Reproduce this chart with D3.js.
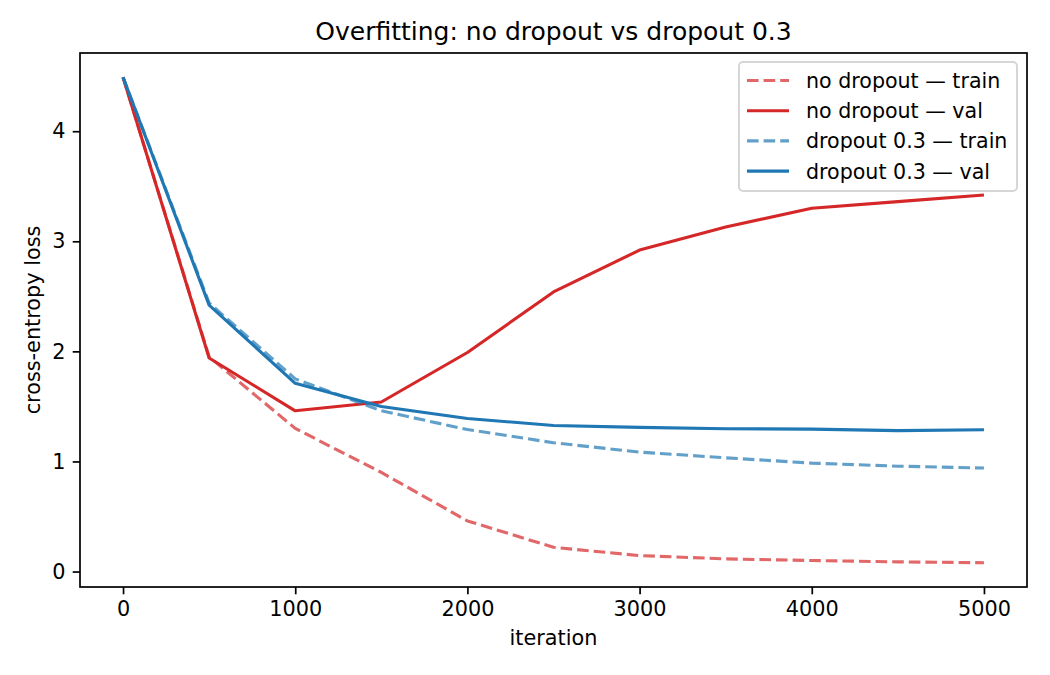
<!DOCTYPE html>
<html>
<head>
<meta charset="utf-8">
<script src="https://cdn.jsdelivr.net/npm/d3@7"></script>
<style>
  body { margin: 0; background: #fff; }
  svg { font-family: "DejaVu Sans", sans-serif; }
</style>
</head>
<body>
<div id="chart"></div>
<script>
// datos
var iteraciones = [0, 500, 1000, 1500, 2000, 2500, 3000, 3500, 4000, 4500, 5000];
var noDropoutTrain = [4.49, 1.95, 1.30, 0.90, 0.46, 0.22, 0.145, 0.115, 0.10, 0.088, 0.08];
var noDropoutVal = [4.49, 1.94, 1.46, 1.54, 1.99, 2.54, 2.92, 3.13, 3.30, 3.36, 3.42];
var dropoutTrain = [4.49, 2.44, 1.75, 1.46, 1.29, 1.17, 1.085, 1.033, 0.985, 0.957, 0.94];
var dropoutVal = [4.49, 2.42, 1.71, 1.50, 1.39, 1.327, 1.31, 1.297, 1.294, 1.28, 1.288];
var xTicks = [0, 1000, 2000, 3000, 4000, 5000];
var yTicks = [0, 1, 2, 3, 4];

var series = [
    { nombre: "no dropout \u2014 train", valores: noDropoutTrain, color: "#d62728", dash: true },
    { nombre: "no dropout \u2014 val", valores: noDropoutVal, color: "#d62728", dash: false },
    { nombre: "dropout 0.3 \u2014 train", valores: dropoutTrain, color: "#1f77b4", dash: true },
    { nombre: "dropout 0.3 \u2014 val", valores: dropoutVal, color: "#1f77b4", dash: false }
];

var W = 1050, H = 675;
var margin = { top: 53, right: 23, bottom: 88, left: 80 };
var width = W - margin.left - margin.right,
    height = H - margin.top - margin.bottom;

var svg = d3.select("#chart").append("svg")
    .attr("width", W)
    .attr("height", H);

var g = svg.append("g")
    .attr("transform", "translate(" + margin.left + "," + margin.top + ")");

// escalas con 5% de margen como matplotlib
var x = d3.scaleLinear().domain([-250, 5250]).range([0, width]);
var yMin = 0.08, yMax = 4.49, pad = (yMax - yMin) * 0.05;
var y = d3.scaleLinear().domain([yMin - pad, yMax + pad]).range([height, 0]);

// ejes
var xAxis = d3.axisBottom(x).tickValues(xTicks).tickFormat(d3.format("d")).tickSize(7.3).tickPadding(6.5);
var yAxis = d3.axisLeft(y).tickValues(yTicks).tickFormat(d3.format("d")).tickSize(7.3).tickPadding(7.3);

var gx = g.append("g")
    .attr("transform", "translate(0," + height + ")")
    .call(xAxis);
var gy = g.append("g").call(yAxis);

[gx, gy].forEach(function(ax) {
    ax.attr("font-family", null).attr("font-size", null);
    ax.select(".domain").remove();
    ax.selectAll("line").attr("stroke", "#000").attr("stroke-width", 1.7);
    ax.selectAll("text").attr("fill", "#000").style("font-size", "20.8px");
});

// lineas
var linea = d3.line()
    .x(function(d, i) { return x(iteraciones[i]); })
    .y(function(d) { return y(d); });

g.append("g").selectAll("path")
    .data(series)
    .enter()
    .append("path")
    .attr("d", function(d) { return linea(d.valores); })
    .attr("fill", "none")
    .attr("stroke", function(d) { return d.color; })
    .attr("stroke-opacity", function(d) { return d.dash ? 0.7 : 1; })
    .attr("stroke-width", 3.1)
    .attr("stroke-dasharray", function(d) { return d.dash ? "11.6,5" : null; })
    .attr("stroke-linejoin", "round");

// marco
g.append("rect")
    .attr("x", 0).attr("y", 0)
    .attr("width", width).attr("height", height)
    .attr("fill", "none")
    .attr("stroke", "#000")
    .attr("stroke-width", 1.7);

// titulo y etiquetas
svg.append("text")
    .attr("x", margin.left + width / 2)
    .attr("y", 40)
    .attr("text-anchor", "middle")
    .style("font-size", "25px")
    .text("Overfitting: no dropout vs dropout 0.3");

svg.append("text")
    .attr("x", margin.left + width / 2)
    .attr("y", 645)
    .attr("text-anchor", "middle")
    .style("font-size", "20.8px")
    .text("iteration");

svg.append("text")
    .attr("transform", "translate(40," + (margin.top + height / 2) + ") rotate(-90)")
    .attr("text-anchor", "middle")
    .style("font-size", "20.8px")
    .text("cross-entropy loss");

// leyenda
var leyenda = svg.append("g").attr("transform", "translate(739,62)");
leyenda.append("rect")
    .attr("width", 278).attr("height", 129)
    .attr("rx", 4)
    .attr("fill", "#fff").attr("fill-opacity", 0.8)
    .attr("stroke", "#d6d6d6").attr("stroke-width", 2);

var item = leyenda.selectAll("g.item")
    .data(series)
    .enter()
    .append("g")
    .attr("class", "item")
    .attr("transform", function(d, i) { return "translate(0," + (18.5 + i * 30.2) + ")"; });

item.append("line")
    .attr("x1", 8).attr("x2", 50)
    .attr("y1", 0).attr("y2", 0)
    .attr("stroke", function(d) { return d.color; })
    .attr("stroke-opacity", function(d) { return d.dash ? 0.7 : 1; })
    .attr("stroke-width", 3.1)
    .attr("stroke-dasharray", function(d) { return d.dash ? "11.6,5" : null; });

item.append("text")
    .attr("x", 67)
    .attr("y", 7.5)
    .style("font-size", "20.6px")
    .text(function(d) { return d.nombre; });
</script>
</body>
</html>
